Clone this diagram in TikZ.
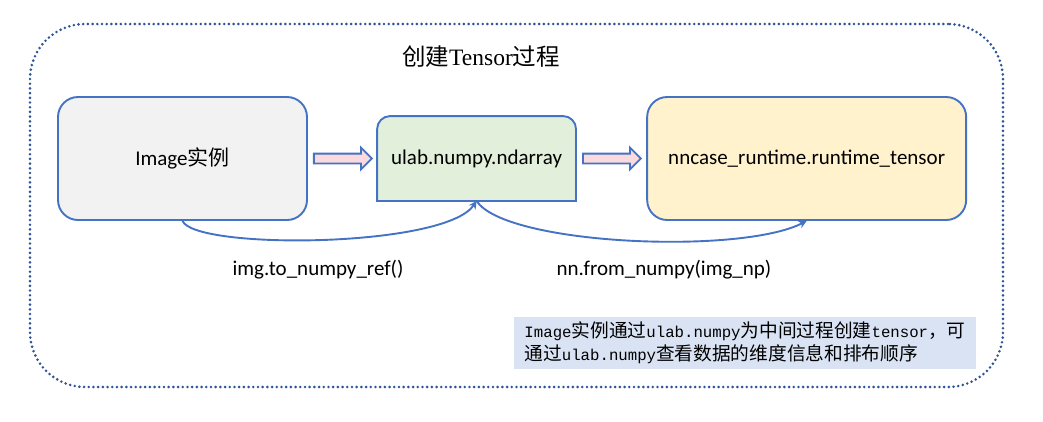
\documentclass[tikz,border=0pt]{standalone}
\usepackage{fontspec}
\setmainfont{Carlito}
\newfontfamily\cjk{Noto Sans CJK SC}
\newfontfamily\titleserif{Liberation Serif}
\newfontfamily\notemono{Liberation Mono}[Scale=0.84]
\usepackage{tikz}
\usetikzlibrary{shapes.arrows, arrows.meta, positioning, backgrounds}
\definecolor{edgeblue}{RGB}{68, 114, 196}
\definecolor{frameblue}{RGB}{47, 85, 151}
\definecolor{greybg}{RGB}{242, 242, 242}
\definecolor{greenbg}{RGB}{226, 239, 218}
\definecolor{yellowbg}{RGB}{255, 242, 204}
\definecolor{pinkbg}{RGB}{250, 218, 221}
\definecolor{notebg}{RGB}{218, 227, 243}
\newcommand{\zh}[1]{{\cjk #1}}
\tikzset{
  baseblock/.style={
    rectangle, line width=1.9pt, draw=edgeblue,
    align=center, font=\fontsize{21}{25}\selectfont
  },
  imageblock/.style={baseblock, rounded corners=20pt, fill=greybg},
  ulabblock/.style={baseblock, draw=none},
  tensorblock/.style={baseblock, rounded corners=20pt, fill=yellowbg},
  blockarrow/.style={
    single arrow, draw=edgeblue, fill=pinkbg, line width=1.8pt,
    inner xsep=0pt, inner ysep=4pt, single arrow head extend=6pt,
    minimum height=58pt
  },
  linkline/.style={
    draw=edgeblue, line width=1.9pt, -{Stealth[length=8pt, width=8pt]}
  },
  framebox/.style={
    rectangle, rounded corners=55pt, draw=frameblue, line width=2.9pt,
    dash pattern=on 0pt off 4.7pt, line cap=round
  },
  titletext/.style={font=\fontsize{23.5}{28}\selectfont},
  labeltext/.style={font=\fontsize{21}{25}\selectfont},
  notebox/.style={
    rectangle, fill=notebg, align=left, inner sep=0pt,
    minimum width=462pt, minimum height=52pt,
    font=\fontsize{18.7}{23}\selectfont
  }
}

\begin{document}
\begin{tikzpicture}[x=1pt, y=-1pt]
  \useasboundingbox (0,0) rectangle (1043,421);

  % outer dotted frame
  \node[framebox, minimum width=973pt, minimum height=363pt] (frame) at (516.5,205.5) {};

  % title
  \node[titletext] (title) at (481,57) {\zh{创建}{\titleserif Tensor}\zh{过程}};

  % Image instance
  \node[imageblock, minimum width=249pt, minimum height=123pt] (img) at (182.5,158.5) {Image\zh{实例}};

  \node[blockarrow, right=5pt of img] (arr1) {};

  % ulab ndarray
  \node[ulabblock, right=4pt of arr1, minimum width=197pt, minimum height=83pt] (ulab) {ulab.numpy.ndarray};
  \begin{scope}[on background layer]
    \path[draw=edgeblue, line width=1.9pt, fill=greenbg]
      (ulab.south west) -- ([yshift=-13pt]ulab.north west)
      arc[start angle=180, end angle=90, radius=13pt]
      -- ([xshift=-13pt]ulab.north east)
      arc[start angle=90, end angle=0, radius=13pt]
      -- (ulab.south east) -- cycle;
  \end{scope}

  \node[blockarrow, right=6pt of ulab] (arr2) {};

  % runtime tensor
  \node[tensorblock, right=4pt of arr2, minimum width=319pt, minimum height=123pt] (rt) {nncase\_runtime.runtime\_tensor};

  \draw[linkline] (img.south) .. controls (195,250) and (445,248) .. (ulab.south);
  \draw[linkline] (ulab.south) .. controls (505,245) and (740,255) .. (rt.south);

  \node[labeltext] (lbl1) at (318,270) {img.to\_numpy\_ref()};
  \node[labeltext] (lbl2) at (664,270) {nn.from\_numpy(img\_np)};

  % note
  \node[notebox] (note) at (745,343) {%
    {\notemono Image}\zh{实例通过}{\notemono ulab.numpy}\zh{为中间过程创建}{\notemono tensor}\zh{，可}\\
    \zh{通过}{\notemono ulab.numpy}\zh{查看数据的维度信息和排布顺序}};
\end{tikzpicture}
\end{document}
